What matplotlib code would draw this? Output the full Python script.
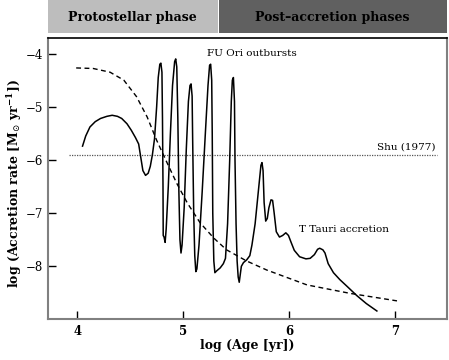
import matplotlib
matplotlib.use("Agg")
import matplotlib.pyplot as plt
from matplotlib.patches import Rectangle

plt.rcParams["font.family"] = ["DejaVu Serif"]
plt.rcParams["mathtext.fontset"] = "dejavuserif"

# episodic accretion history (solid)
age_ep = [4.05, 4.08, 4.12, 4.17, 4.22, 4.28, 4.33, 4.38, 4.42, 4.47, 4.51, 4.55,
          4.58, 4.60, 4.62, 4.645, 4.67, 4.69, 4.71, 4.73, 4.75, 4.765, 4.78, 4.79,
          4.80, 4.805, 4.81, 4.812, 4.82, 4.83, 4.84, 4.86, 4.88, 4.90, 4.92, 4.93,
          4.94, 4.95, 4.96, 4.97, 4.98, 4.99, 5.01, 5.03, 5.05, 5.065, 5.075, 5.085,
          5.09, 5.10, 5.11, 5.12, 5.13, 5.15, 5.18, 5.21, 5.235, 5.25, 5.26, 5.27,
          5.275, 5.28, 5.29, 5.30, 5.32, 5.35, 5.38, 5.40, 5.42, 5.44, 5.455, 5.465,
          5.475, 5.485, 5.49, 5.50, 5.51, 5.52, 5.53, 5.54, 5.55, 5.57, 5.60, 5.63,
          5.65, 5.68, 5.71, 5.735, 5.745, 5.755, 5.765, 5.78, 5.795, 5.81, 5.83,
          5.845, 5.86, 5.88, 5.91, 5.94, 5.97, 5.995, 6.02, 6.05, 6.10, 6.16, 6.20,
          6.24, 6.27, 6.29, 6.32, 6.34, 6.37, 6.42, 6.48, 6.55, 6.64, 6.73, 6.83]
rate_ep = [-5.74, -5.55, -5.38, -5.28, -5.22, -5.18, -5.16, -5.18, -5.22, -5.32, -5.44, -5.58,
           -5.70, -5.95, -6.20, -6.29, -6.25, -6.12, -5.90, -5.60, -5.00, -4.45, -4.20, -4.18,
           -4.35, -5.20, -6.50, -7.42, -7.45, -7.55, -7.30, -6.50, -5.50, -4.60, -4.15, -4.10,
           -4.25, -5.20, -6.60, -7.50, -7.75, -7.60, -6.90, -5.80, -4.90, -4.60, -4.57, -4.80,
           -5.60, -7.00, -7.80, -8.10, -8.05, -7.60, -6.60, -5.50, -4.60, -4.22, -4.20, -4.50,
           -5.50, -7.00, -7.90, -8.12, -8.08, -8.03, -7.95, -7.85, -7.20, -6.00, -4.90, -4.50,
           -4.45, -4.90, -6.00, -7.20, -7.90, -8.20, -8.30, -8.15, -8.00, -7.93, -7.88, -7.80,
           -7.60, -7.20, -6.60, -6.10, -6.05, -6.20, -6.80, -7.15, -7.10, -6.90, -6.75,
           -6.76, -7.00, -7.35, -7.45, -7.42, -7.37, -7.42, -7.55, -7.70, -7.82, -7.86, -7.85,
           -7.78, -7.68, -7.66, -7.69, -7.75, -7.95, -8.12, -8.25, -8.38, -8.55, -8.70, -8.84]

# smooth accretion model (dashed)
age_sm = [3.99, 4.15, 4.31, 4.44, 4.56, 4.66, 4.75, 4.85, 4.94, 5.04, 5.16, 5.29,
          5.41, 5.60, 5.79, 6.17, 6.58, 7.02]
rate_sm = [-4.27, -4.28, -4.35, -4.50, -4.81, -5.19, -5.63, -6.06, -6.44, -6.81, -7.18, -7.47,
           -7.69, -7.90, -8.07, -8.35, -8.51, -8.65]

# Shu (1977) constant rate
shu_age = [3.92, 7.40]
shu_rate = [-5.91, -5.91]

phase_labels = ["Protostellar phase", "Post\u2013accretion phases"]
xticks = [4, 5, 6, 7]
yticks = [-4, -5, -6, -7, -8]

fig = plt.figure(figsize=(4.49, 3.60), dpi=100)
ax = fig.add_axes([0.106, 0.114, 0.889, 0.780])

ax.plot(shu_age, shu_rate, linestyle=(0, (1, 1)), color="#555555", linewidth=0.9)
ax.plot(age_sm, rate_sm, linestyle=(0, (3.5, 2.5)), color="black", linewidth=1.0)
ax.plot(age_ep, rate_ep, color="black", linewidth=1.1)

ax.text(5.23, -3.99, "FU Ori outbursts", fontsize=7.5, va="center", ha="left")
ax.text(7.38, -5.75, "Shu (1977)", fontsize=7.5, va="center", ha="right")
ax.text(6.09, -7.31, "T Tauri accretion", fontsize=7.5, va="center", ha="left")

ax.set_xlim(3.72, 7.49)
ax.set_ylim(-8.99, -3.71)
ax.set_xticks(xticks)
ax.set_xticklabels([str(t) for t in xticks], fontweight="bold")
ax.set_yticks(yticks)
ax.set_yticklabels(["\u2212%d" % abs(t) for t in yticks])
ax.tick_params(direction="in", length=6, width=1, labelsize=8.5, top=False, right=False)
ax.tick_params(axis="x", pad=4)
for side in ["left", "bottom", "right"]:
    ax.spines[side].set_color("#808080")
    ax.spines[side].set_linewidth(1.5)
ax.spines["top"].set_color("black")
ax.spines["top"].set_linewidth(1.2)

ax.set_xlabel("log (Age [yr])", fontsize=9, fontweight="bold")
ax.set_ylabel(r"log (Accretion rate [M$_{\odot}$ yr$^{\mathbf{-1}}$])", fontsize=9,
              fontweight="bold")
ax.xaxis.set_label_coords(0.5, -0.096)
ax.yaxis.set_label_coords(-0.082, 0.482)
ax.xaxis.label.set_va("center")
ax.yaxis.label.set_va("center")

# phase header bar above the axes
W, H = 449.0, 360.0
split = 218.0
fig.patches.append(Rectangle((47.5 / W, 1 - 33 / H), (split - 47.5) / W, 33 / H,
                             transform=fig.transFigure, facecolor="#bdbdbd", edgecolor="none"))
fig.patches.append(Rectangle(((split + 1) / W, 1 - 33 / H), (447 - split - 1) / W, 33 / H,
                             transform=fig.transFigure, facecolor="#606060", edgecolor="none"))
fig.text((47.5 + split) / 2 / W, 1 - 17 / H, phase_labels[0], fontsize=9,
         fontweight="bold", ha="center", va="center")
fig.text((split + 447) / 2 / W, 1 - 17 / H, phase_labels[1], fontsize=9,
         fontweight="bold", ha="center", va="center")

fig.savefig("out.png", dpi=100)
